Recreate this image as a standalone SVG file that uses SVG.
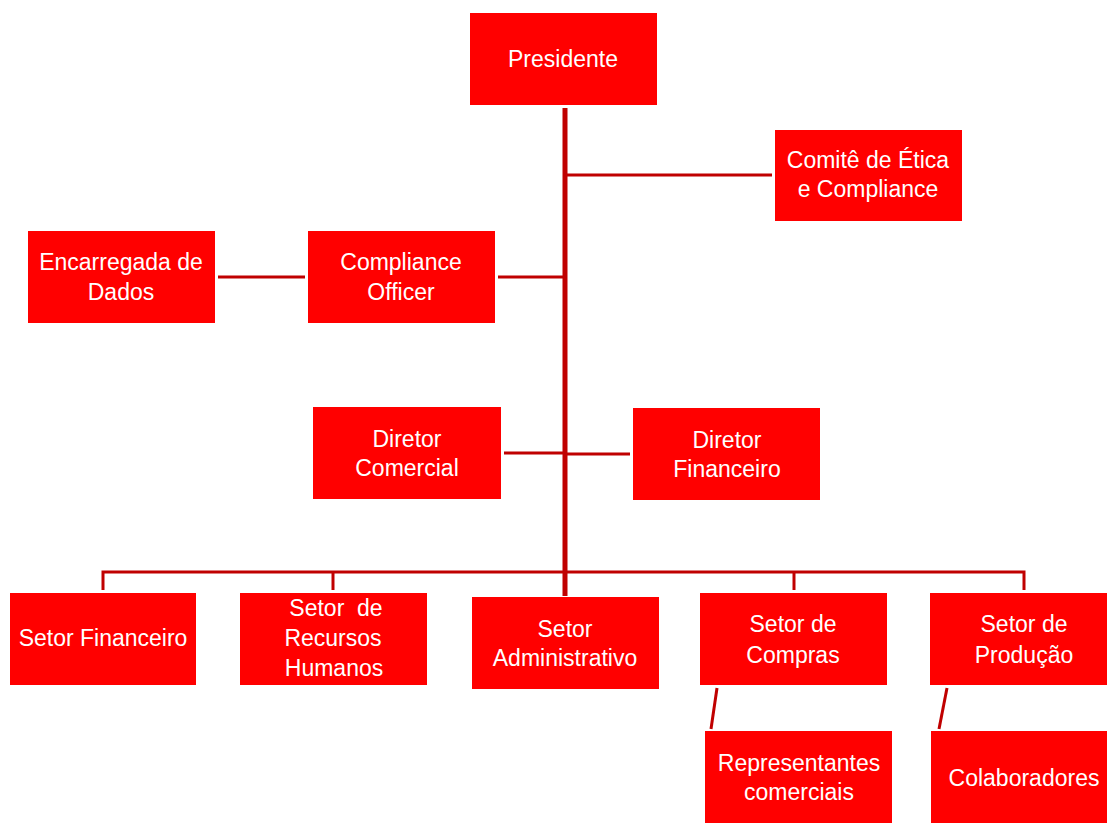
<svg xmlns="http://www.w3.org/2000/svg" width="1107" height="823" viewBox="0 0 1107 823">
<style>
.box{fill:#FF0000;}
.t{fill:#FFFFFF;font-family:"Liberation Sans",Arial,sans-serif;font-size:23px;text-anchor:middle;}
.c{stroke:#C00000;stroke-width:3;fill:none;}
.m{stroke:#C00000;stroke-width:5;fill:none;}
</style>
<rect width="1107" height="823" fill="#FFFFFF"/>
<g id="connectors">
<line class="m" x1="565" y1="108" x2="565" y2="596"/>
<line class="c" x1="565" y1="175" x2="772" y2="175"/>
<line class="c" x1="498" y1="277" x2="563" y2="277"/>
<line class="c" x1="218" y1="277" x2="305" y2="277"/>
<line class="c" x1="504" y1="453" x2="563" y2="453"/>
<line class="c" x1="567" y1="454" x2="630" y2="454"/>
<polyline class="c" points="103,590 103,572 1024,572 1024,590"/>
<line class="c" x1="333" y1="572" x2="333" y2="590"/>
<line class="c" x1="794" y1="572" x2="794" y2="590"/>
<line class="c" x1="717" y1="688" x2="711" y2="729"/>
<line class="c" x1="947" y1="688" x2="939" y2="729"/>
</g>
<g id="presidente"><rect class="box" x="470" y="13" width="187" height="92"/><text class="t" x="563" y="67">Presidente</text></g>
<g id="comite"><rect class="box" x="775" y="130" width="187" height="91"/><text class="t" x="868" y="168">Comitê de Ética</text><text class="t" x="868" y="197">e Compliance</text></g>
<g id="encarregada"><rect class="box" x="28" y="231" width="187" height="92"/><text class="t" x="121" y="270">Encarregada de</text><text class="t" x="121" y="300">Dados</text></g>
<g id="compliance-officer"><rect class="box" x="308" y="231" width="187" height="92"/><text class="t" x="401" y="270">Compliance</text><text class="t" x="401" y="300">Officer</text></g>
<g id="diretor-comercial"><rect class="box" x="313" y="407" width="188" height="92"/><text class="t" x="407" y="447">Diretor</text><text class="t" x="407" y="476">Comercial</text></g>
<g id="diretor-financeiro"><rect class="box" x="633" y="408" width="187" height="92"/><text class="t" x="727" y="448">Diretor</text><text class="t" x="727" y="477">Financeiro</text></g>
<g id="setor-financeiro"><rect class="box" x="10" y="593" width="186" height="92"/><text class="t" x="103" y="646">Setor Financeiro</text></g>
<g id="setor-rh"><rect class="box" x="240" y="593" width="187" height="92"/><text class="t" x="336" y="616" xml:space="preserve">Setor  de</text><text class="t" x="333" y="646">Recursos</text><text class="t" x="334" y="676">Humanos</text></g>
<g id="setor-administrativo"><rect class="box" x="472" y="597" width="187" height="92"/><text class="t" x="565" y="637">Setor</text><text class="t" x="565" y="666">Administrativo</text></g>
<g id="setor-compras"><rect class="box" x="700" y="593" width="187" height="92"/><text class="t" x="793" y="632">Setor de</text><text class="t" x="793" y="663">Compras</text></g>
<g id="setor-producao"><rect class="box" x="930" y="593" width="177" height="92"/><text class="t" x="1024" y="632">Setor de</text><text class="t" x="1024" y="663">Produção</text></g>
<g id="representantes"><rect class="box" x="705" y="731" width="187" height="92"/><text class="t" x="799" y="771">Representantes</text><text class="t" x="799" y="800">comerciais</text></g>
<g id="colaboradores"><rect class="box" x="931" y="731" width="176" height="92"/><text class="t" x="1024" y="786">Colaboradores</text></g>
</svg>
